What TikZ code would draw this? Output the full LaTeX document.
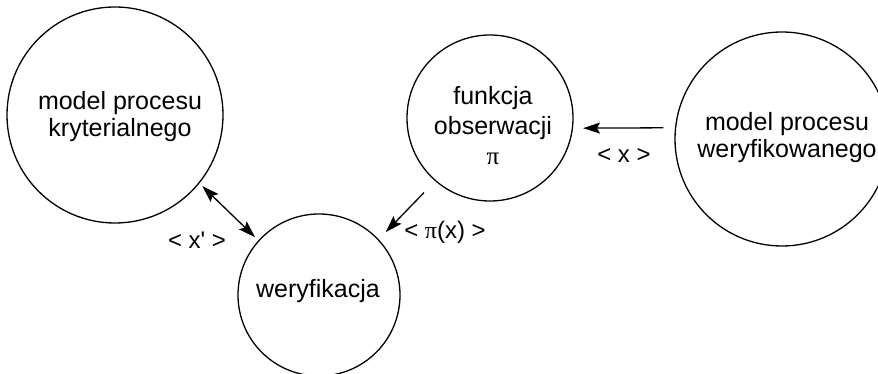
\documentclass[tikz,border=0pt]{standalone}
\usepackage{fontspec}
\setmainfont{Liberation Sans}
\newfontfamily\pifont{Liberation Serif}
\newfontfamily\nomapfont[Ligatures=ResetAll]{Liberation Sans}
\usetikzlibrary{arrows.meta}
\begin{document}
\begin{tikzpicture}[x=1pt,y=-1pt,
  circ/.style={draw,circle,line width=1.3pt,inner sep=0pt,minimum size=#1},
  txt/.style={align=center,inner sep=0pt,font=\fontsize{25}{27}\selectfont},
  lbl/.style={inner sep=0pt,font=\fontsize{24}{27}\selectfont},
  conn/.style={line width=1.3pt,arrows={-Stealth[length=17pt,width=11pt,inset=3pt]}},
  conn2/.style={line width=1.3pt,arrows={Stealth[length=17pt,width=11pt,inset=3pt]-Stealth[length=17pt,width=11pt,inset=3pt]}}]
\useasboundingbox (0,0) rectangle (878,374);
\clip (0,0) rectangle (878,374);
% circles
\node[circ=216pt] (L) at (115,115) {};
\node[circ=166pt] (F) at (490,118) {};
\node[circ=162pt] (W) at (319,295) {};
\node[circ=214pt] (R) at (782,139) {};
% texts
\node[txt] (Lt) at (120,117) {model procesu\\kryterialnego};
\node[txt,font=\fontsize{25}{30}\selectfont] (Ft) at (493,126) {funkcja\\obserwacji\\{\pifont π}};
\node[txt] (Wt) at (318,291.5) {weryfikacja};
\node[txt] (Rt) at (787,138) {model procesu\\weryfikowanego};
% connectors
\draw[conn2,shorten <=4pt,shorten >=4.5pt] (L.-39) -- (W.138);
\draw[conn,shorten <=16pt,shorten >=10pt] (F.-131) -- (W.43);
\draw[conn,shorten <=11.5pt,shorten >=10pt] (R.174.6) -- (F.-7.6);
% labels
\node[lbl] (l1) at (197,240) {< x{\nomapfont '} >};
\node[lbl] (l2) at (445,232) {< {\pifont π}(x) >};
\node[lbl] (l3) at (624,156) {< x >};
\end{tikzpicture}
\end{document}
